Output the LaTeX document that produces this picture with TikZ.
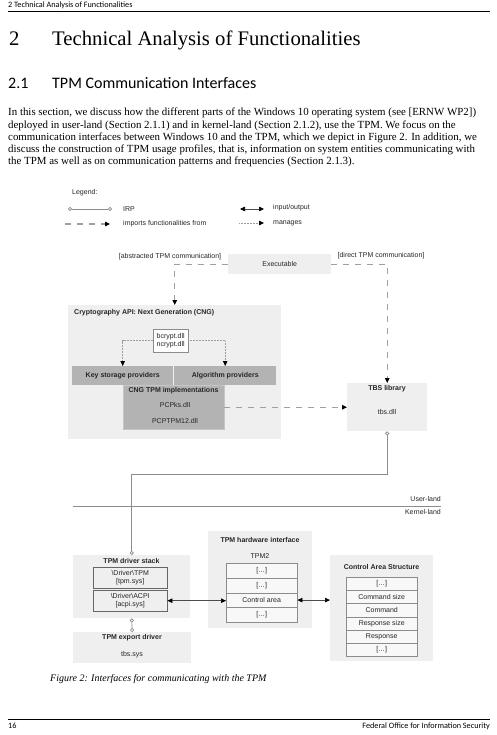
\documentclass[tikz,border=0pt]{standalone}
\usepackage{fontspec}
\setmainfont{Liberation Serif}
\newfontfamily\carlito{Carlito}
\newfontfamily\arial{Liberation Sans}
\usepackage{tikz}
\usetikzlibrary{arrows.meta}

\definecolor{boxlight}{HTML}{EFEFEF}
\definecolor{boxmid}{HTML}{B3B3B3}
\definecolor{cellfill}{HTML}{F8F8F8}
\definecolor{linegray}{HTML}{8C8C8C}

\begin{document}
\begin{tikzpicture}[ x=1pt, y=-1pt, every node/.style={inner sep=0pt},
    dia/.style={font=\arial\fontsize{7}{8.2}\selectfont, text=black!85},
    diabold/.style={dia, font=\arial\bfseries\fontsize{7}{8.2}\selectfont},
    body/.style={anchor=base west, font=\fontsize{10.9}{12.2}\selectfont},
    small/.style={anchor=base west, font=\carlito\fontsize{8.2}{9}\selectfont},
    area/.style={fill=boxlight, anchor=north west},
    prov/.style={fill=boxmid, anchor=north west, diabold},
    cell/.style={draw=linegray, fill=cellfill, anchor=north west, dia, minimum width=71},
    imports/.style={draw=gray!75, line width=1.1pt, dash pattern=on 6pt off 6pt, -{Triangle[black, length=5pt, width=4.5pt]}},
    manages/.style={draw=gray!75, line width=0.8pt, dash pattern=on 0.8pt off 0.7pt, -{Triangle[black, length=5pt, width=4.5pt]}},
    io/.style={draw=black!70, line width=0.7pt, {Triangle[black, length=5pt, width=4.5pt]}-{Triangle[black, length=5pt, width=4.5pt]}},
    irp/.style={draw=linegray, line width=0.7pt, {Circle[open, length=4pt, width=4pt]}-{Circle[open, length=4pt, width=4pt]}} ]

    \fill[white] (0,0) rectangle (496,735);
    \useasboundingbox (0,0) rectangle (496,735);

    % --- Page head ---
    \node[small] (runhead) at (8,8) {2 Technical Analysis of Functionalities};
    \draw[line width=0.8pt] (8,11) -- (490,11);
    \node[anchor=base west, font=\fontsize{20.7}{24}\selectfont] (secnum) at (9,46) {2};
    \node[anchor=base west, font=\fontsize{20.7}{24}\selectfont] (sectitle) at (52,46) {Technical Analysis of Functionalities};
    \node[anchor=base west, font=\carlito\fontsize{16}{19}\selectfont] (subnum) at (8,89) {2.1};
    \node[anchor=base west, font=\carlito\fontsize{16}{19}\selectfont] (subtitle) at (52,89) {TPM Communication Interfaces};

    \foreach \ln [count=\i from 0] in {
        {In this section, we discuss how the different parts of the Windows 10 operating system (see [ERNW WP2])},
        {deployed in user-land (Section 2.1.1) and in kernel-land (Section 2.1.2), use the TPM. We focus on the},
        {communication interfaces between Windows 10 and the TPM, which we depict in Figure 2. In addition, we},
        {discuss the construction of TPM usage profiles, that is, information on system entities communicating with},
        {the TPM as well as on communication patterns and frequencies (Section 2.1.3).}}
        \node[body] (body\i) at (8,116+12.1*\i) {\ln};

    % --- Legend ---
    \node[dia, anchor=west] (legend) at (72,193) {Legend:};
    \coordinate (irpA) at (68,209);  \coordinate (irpB) at (112,209);
    \coordinate (impA) at (65,224);  \coordinate (impB) at (110,224);
    \coordinate (ioA) at (240,209);  \coordinate (ioB) at (264,209);
    \coordinate (manA) at (239,223); \coordinate (manB) at (264,223);
    \draw[irp] (irpA) -- (irpB);
    \draw[imports] (impA) -- (impB);
    \draw[io] (ioA) -- (ioB);
    \draw[manages] (manA) -- (manB);
    \node[dia, anchor=west] (lgirp) at (123,209) {IRP};
    \node[dia, anchor=west] (lgimp) at (123,224) {imports functionalities from};
    \node[dia, anchor=west] (lgio) at (273,208) {input/output};
    \node[dia, anchor=west] (lgman) at (273,223) {manages};

    % --- User-land ---
    \node[area, dia, minimum width=103, minimum height=20] (exe) at (228,254) {Executable};
    \node[dia] (abstr) at (170,257) {[abstracted TPM communication]};
    \node[dia] (direct) at (381,256) {[direct TPM communication]};

    \node[area, minimum width=213, minimum height=134] (cng) at (68,305) {};
    \node[diabold, anchor=west] (cngtitle) at (74,313) {Cryptography API: Next Generation (CNG)};
    \node[draw=linegray, fill=white, dia, anchor=north west, minimum width=35, minimum height=23, align=center] (bcrypt) at (153,329) {bcrypt.dll\\ncrypt.dll};
    \node[prov, minimum width=101, minimum height=19] (ksp) at (72,366) {Key storage providers};
    \node[prov, minimum width=102, minimum height=19] (alg) at (174,366) {Algorithm providers};
    \node[prov, draw=gray!45, minimum width=101, minimum height=44] (cngtpm) at (123,385) {};
    \node[diabold] (cngtpmtitle) at (173.5,391) {CNG TPM implementations};
    \node[dia] (pcpks) at (175,405) {PCPks.dll};
    \node[dia] (pcptpm) at (175,421) {PCPTPM12.dll};

    \node[area, minimum width=80, minimum height=48] (tbslib) at (347,383) {};
    \node[diabold] (tbstitle) at (387,389) {TBS library};
    \node[dia] (tbsdll) at (387,412) {tbs.dll};

    \draw[imports] (exe.west) -| (cng.north);
    \draw[imports] (exe.east) -| (tbslib.north);
    \draw[manages] (bcrypt.west) -| (ksp.north);
    \draw[manages] (bcrypt.east) -| (alg.north);
    \draw[imports] (cngtpm.east) -- (cngtpm.east -| tbslib.west);

    % --- Boundary ---
    \draw[linegray, line width=0.8pt] (73,506) -- (441,506);
    \node[dia, anchor=east] (userland) at (441,499) {User-land};
    \node[dia, anchor=east] (kernelland) at (441,512) {Kernel-land};

    % --- Kernel-land ---
    \node[area, minimum width=117, minimum height=63] (drvstack) at (73,555) {};
    \node[diabold] (drvtitle) at (131.5,561) {TPM driver stack};
    \node[area, draw=black!60, dia, align=center, minimum width=74, minimum height=21] (drvtpm) at (93,567) {\textbackslash Driver\textbackslash TPM\\{[tpm.sys]}};
    \node[area, draw=black!60, dia, align=center, minimum width=74, minimum height=21] (drvacpi) at (93,590) {\textbackslash Driver\textbackslash ACPI\\{[acpi.sys]}};

    \node[area, minimum width=118, minimum height=31] (export) at (73,632) {};
    \node[diabold] (exporttitle) at (132,638) {TPM export driver};
    \node[dia] (tbssys) at (132,655) {tbs.sys};

    \node[area, minimum width=104, minimum height=97] (hwif) at (208,531) {};
    \node[diabold] (hwtitle) at (260,540) {TPM hardware interface};
    \node[dia] (tpmtwo) at (260,556) {TPM2};
    \foreach \txt [count=\i] in {{[\ldots]}, {[\ldots]}, {Control area}, {[\ldots]}}
        \node[cell, minimum height=14.75] (hw\i) at (226,548.25+14.75*\i) {\txt};

    \node[area, minimum width=103, minimum height=106] (cas) at (330,555) {};
    \node[diabold] (castitle) at (381.5,567) {Control Area Structure};
    \foreach \txt [count=\i] in {{[\ldots]}, {Command size}, {Command}, {Response size}, {Response}, {[\ldots]}}
        \node[cell, minimum height=13.17] (cas\i) at (346,563.83+13.17*\i) {\txt};

    \draw[irp] (tbslib.south) -- ++(0,43) -| (drvstack.north);
    \draw[irp] (drvstack.south) -- (export.north);
    \draw[io] (drvacpi.east) -- (drvacpi.east -| hw3.west);
    \draw[io] (hw3.east) -- (hw3.east -| cas.west);

    % --- Caption and foot ---
    \node[anchor=base west, font=\itshape\fontsize{10}{11}\selectfont] (caption) at (50,681) {Figure 2: Interfaces for communicating with the TPM};
    \draw[line width=0.9pt] (8,719) -- (490,719);
    \node[small] (pagenum) at (8,728) {16};
    \node[small, anchor=base east] (office) at (490,728) {Federal Office for Information Security};
  \end{tikzpicture}
\end{document}
